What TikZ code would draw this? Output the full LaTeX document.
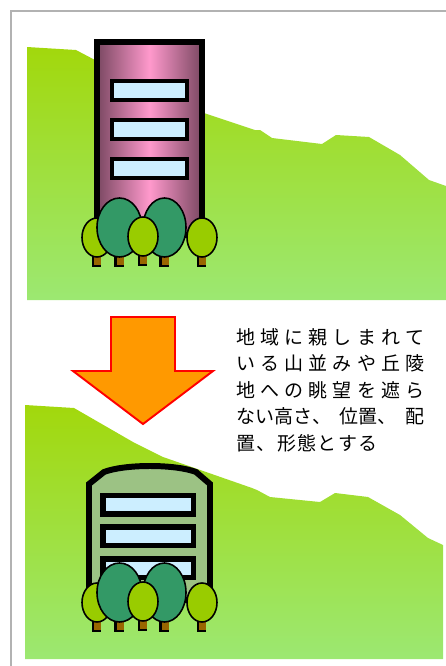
\documentclass[tikz,border=0pt]{standalone}
\usepackage{fontspec}
\newfontfamily\jpfont{Noto Sans CJK JP}

\definecolor{hilltop}{RGB}{162,216,12}
\definecolor{hillbot}{RGB}{156,232,114}
\definecolor{pinkmid}{RGB}{255,153,204}
\definecolor{pinkedge}{RGB}{122,72,98}
\definecolor{glass}{RGB}{204,238,255}
\definecolor{sage}{RGB}{156,194,132}
\definecolor{lime}{RGB}{153,204,0}
\definecolor{leaf}{RGB}{51,153,102}
\definecolor{bark}{RGB}{153,102,0}
\definecolor{arroworange}{RGB}{255,153,0}

% one tree: centre x, centre y, x radius, y radius, crown colour
\newcommand\tree[5]{%
  \fill[bark] (#1-4,#2+#4-3) rectangle (#1+4,#2+#4+9);
  \draw[line width=1.4pt] (#1-4,#2+#4-3) -- (#1-4,#2+#4+9) -- (#1+4,#2+#4+9);
  \filldraw[crown, fill=#5] (#1,#2) ellipse [x radius=#3, y radius=#4];
}

\tikzset{
  hill/.style={top color=hilltop, bottom color=hillbot},
  crown/.style={draw=black, line width=0.9pt},
  window/.style={draw=black, fill=glass},
  caption/.style={font=\jpfont\fontsize{10.8}{13}\selectfont, inner sep=0pt, anchor=west, text=black}
}

\begin{document}
\begin{tikzpicture}[x=0.02cm, y=-0.02cm]
\useasboundingbox (0,0) rectangle (446,666);

% frame
\draw[gray!60, line width=0.85pt] (11,680) -- (11,11) -- (460,11);

% upper panel: tall building
\shade[hill] (27,300) -- (27,47) -- (76,50) -- (95,60) -- (204,113) -- (255,130) -- (260,130)
  -- (272,138) -- (322,144) -- (336,135) -- (369,137) -- (400,155) -- (429,180) -- (446,186)
  -- (446,300) -- cycle;
\shade[left color=pinkedge, right color=pinkedge, middle color=pinkmid] (97,42) rectangle (202,235);
\draw[line width=3.4pt] (97,42) rectangle (202,235);
\foreach \wy in {81,120,159}
  \draw[window, line width=2.3pt] (112,\wy) rectangle (187,\wy+19);

% lower panel: low building
\shade[hill] (25,659) -- (25,405) -- (74,408) -- (133,442) -- (163,457) -- (252,488) -- (257,490)
  -- (270,497) -- (320,502) -- (335,493) -- (368,497) -- (400,515) -- (428,538) -- (443,545)
  -- (443,659) -- cycle;
\filldraw[fill=sage, line width=3.4pt] (89,600) -- (89,484) -- (104,472)
  .. controls (125,464) and (175,464) .. (196,472) -- (210,484) -- (210,600) -- cycle;
\foreach \wy in {495.5,527,559}
  \draw[window, line width=3.1pt] (103,\wy) rectangle (193.5,\wy+18.5);

% trees in front of both buildings
\foreach \dy in {0,365}{
  \begin{scope}[shift={(0,\dy)}]
    \tree{97}{237.5}{15}{19.5}{lime}
    \tree{119.5}{227.5}{22.5}{29.5}{leaf}
    \tree{164.5}{227.5}{21.5}{29.5}{leaf}
    \tree{143}{236.5}{15}{19.5}{lime}
    \tree{202}{237.5}{15}{19.5}{lime}
  \end{scope}
}

% arrow
\filldraw[fill=arroworange, draw=red, line width=1.1pt] (111,317) -- (175,317) -- (175,371)
  -- (213,371) -- (143,424) -- (73,371) -- (111,371) -- cycle;

% caption
\node[caption] (l1) at (236,337) {\makebox[3.76cm][s]{地\hfill 域\hfill に\hfill 親\hfill し\hfill ま\hfill れ\hfill て}};
\node[caption] (l2) at (236,363.5) {\makebox[3.76cm][s]{い\hfill る\hfill 山\hfill 並\hfill み\hfill や\hfill 丘\hfill 陵}};
\node[caption] (l3) at (236,390) {\makebox[3.76cm][s]{地\hfill へ\hfill の\hfill 眺\hfill 望\hfill を\hfill 遮\hfill ら}};
\node[caption] (l4) at (236,416.5) {\makebox[3.76cm][s]{ない高さ、\hfill 位置、\hfill 配}};
\node[caption] (l5) at (236,443) {\makebox[2.82cm][s]{置\hfill 、\hfill 形\hfill 態\hfill と\hfill す\hfill る}};
\end{tikzpicture}
\end{document}
